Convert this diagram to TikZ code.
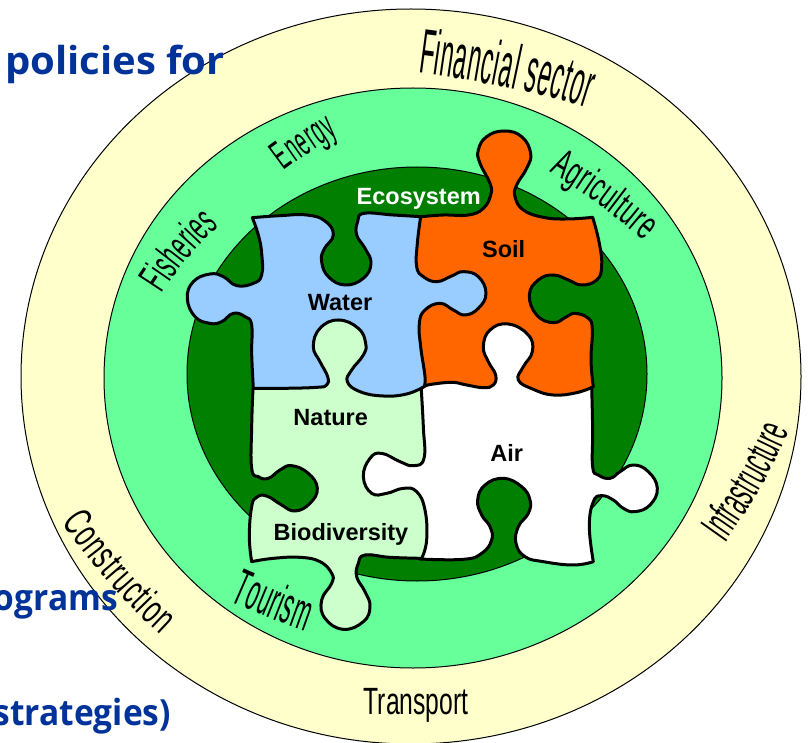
\documentclass[tikz,border=0pt]{standalone}
\usepackage{fontspec}
\usetikzlibrary{decorations.text}
\setmainfont{Liberation Sans}
\newfontfamily\blueA[FakeStretch=1.04]{Open Sans}
\newfontfamily\blueB[FakeStretch=.93]{Open Sans}
\newfontfamily\ffin[FakeStretch=.37]{Liberation Sans}
\newfontfamily\ftra[FakeStretch=.65]{Liberation Sans}
\newfontfamily\fagr[FakeStretch=.57]{Liberation Sans}
\newfontfamily\fene[FakeStretch=.46]{Liberation Sans}
\newfontfamily\ffis[FakeStretch=.50]{Liberation Sans}
\newfontfamily\fcon[FakeStretch=.60]{Liberation Sans}
\newfontfamily\ftou[FakeStretch=.41]{Liberation Sans}
\newfontfamily\finf[FakeStretch=.46]{Liberation Sans}
\definecolor{ringout}{HTML}{FFFFCC}
\definecolor{ringmid}{HTML}{66FF99}
\definecolor{ringin}{HTML}{007F00}
\definecolor{pwater}{HTML}{99CCFF}
\definecolor{psoil}{HTML}{FF6600}
\definecolor{pnature}{HTML}{CCFFCC}
\definecolor{headblue}{HTML}{003399}
\tikzset{
  ring/.style={draw=black,line width=1pt},
  piece/.style={draw=black,line width=3pt,line join=round},
  plabel/.style={font=\bfseries\fontsize{23.5}{25}\selectfont,anchor=base,inner sep=0pt},
  headtop/.style={font=\blueA\bfseries\fontsize{38.5}{42}\selectfont,text=headblue,inner sep=0pt},
  headlow/.style={font=\blueB\bfseries\fontsize{36}{40}\selectfont,text=headblue,inner sep=0pt},
  sm/.style={smooth,tension=.75},
  arctext/.style={decorate,decoration={text along path,text align={fit to path},text={#1}}}
}
\begin{document}
\begin{tikzpicture}[x=1pt,y=-1pt]
\useasboundingbox (0,0) rectangle (808,743);
\clip (0,0) rectangle (808,743);
\fill[white] (0,0) rectangle (808,743);
% rings
\path[ring,fill=ringout] (411,376.5) ellipse [x radius=390,y radius=367.5];
\path[ring,fill=ringmid] (413,378) ellipse [x radius=309,y radius=290];
\path[ring,fill=ringin] (417,374) ellipse [x radius=230,y radius=207];
% Air (hidden parts under the neighbours)
\begin{scope}[shift={(410,330)},scale=1/3]
\path[piece,fill=white]
 plot[sm] coordinates {(545,170)(548,300)(548,410)(565,435)(600,445)(630,425)(670,405)(715,425)(742,475)(720,525)(675,545)(640,535)(610,510)(575,497)(550,515)(538,590)(550,695)}
 -- plot[sm] coordinates {(550,695)(490,705)(400,695)(345,680)(318,640)(325,590)(355,550)(360,510)(335,470)(280,445)(225,465)(203,510)(215,555)(240,590)(245,630)(215,670)(160,688)(30,687)}
 -- (-180,570) -- (-180,270) -- (38,172) -- (90,144) -- (204,-36) -- (390,-36) -- (495,135) -- cycle;
\end{scope}
% Soil
\begin{scope}[shift={(400,120)},scale=1/3]
\path[piece,fill=psoil]
 plot[sm] coordinates {(65,290)(130,285)(205,285)(250,265)(272,225)(270,190)(240,130)(235,90)(260,50)(312,33)(365,50)(392,100)(380,145)(350,195)(345,230)(370,270)(430,292)(500,297)(578,292)}
 -- plot[sm] coordinates {(578,292)(598,370)(605,440)(590,480)(545,495)(505,480)(460,465)(415,480)(388,525)(410,585)(460,608)(500,590)(525,580)(565,595)(577,630)(573,720)(580,800)}
 -- plot[sm] coordinates {(580,800)(530,818)(460,825)(400,808)(355,780)(370,740)(397,695)(385,645)(325,612)(270,630)(250,680)(265,725)(287,765)(280,795)(250,803)(200,795)(150,787)(70,797)}
 -- (0,810) -- (-50,600) -- (-50,300) -- cycle;
\end{scope}
% Nature / Biodiversity
\begin{scope}[shift={(230,370)},scale=1/3]
\path[piece,fill=pnature]
 plot[sm] coordinates {(69,55)(65,170)(65,295)(85,320)(115,325)(150,300)(185,287)(235,310)(262,355)(240,400)(195,423)(155,405)(110,378)(80,382)(65,410)(58,500)(65,575)}
 -- plot[sm] coordinates {(65,575)(130,565)(210,562)(270,575)(305,610)(305,640)(275,690)(285,745)(340,778)(400,755)(420,710)(405,665)(380,620)(385,580)(405,555)(480,562)(575,565)}
 -- plot[sm] coordinates {(575,565)(590,510)(585,420)(560,365)(520,355)(470,370)(425,370)(400,320)(420,265)(455,250)(510,275)(550,287)(582,265)(580,170)(573,45)}
 -- (495,30) -- (465,-180) -- (210,-180) -- (165,15) -- cycle;
\end{scope}
% Water
\begin{scope}[shift={(180,120)},scale=1/3]
\path[piece,fill=pwater]
 plot[sm] coordinates {(217,293)(300,287)(380,285)(435,303)(460,345)(432,388)(425,425)(445,470)(495,495)(550,475)(573,430)(555,385)(530,345)(533,305)(552,280)(640,285)(722,290)}
 -- plot[sm] coordinates {(722,290)(712,370)(710,440)(730,470)(770,485)(815,468)(850,455)(895,470)(918,520)(895,565)(855,585)(820,570)(780,550)(735,570)(718,610)(722,680)(735,770)(732,800)}
 -- plot[sm] coordinates {(732,800)(680,822)(610,828)(540,815)(502,785)(515,750)(550,705)(557,670)(535,625)(475,600)(420,625)(400,680)(420,725)(443,770)(440,795)(410,802)(310,805)(220,805)}
 -- plot[sm] coordinates {(220,805)(215,700)(215,615)(195,590)(160,580)(125,605)(90,610)(45,590)(22,535)(40,485)(90,462)(130,470)(170,497)(220,490)(245,465)(245,400)(235,345)(217,293)}
 -- cycle;
\end{scope}
% puzzle labels
\node[plabel] (water) at (340,310.7) {Water};
\node[plabel] (soil) at (503.7,257.7) {Soil};
\node[plabel,text=white] (eco) at (418.7,205) {Ecosystem};
\node[plabel] (nature) at (330.7,425.7) {Nature};
\node[plabel] (bio) at (341,540.7) {Biodiversity};
\node[plabel] (air) at (506.7,461.7) {Air};
% curved sector labels
\path[arctext={|\ffin\fontsize{63}{70}\selectfont|Financial sector}] (418,73) .. controls (473,80) and (530,90) .. (587,108);
\path[arctext={|\fagr\fontsize{41}{46}\selectfont|Agriculture}] (549,172) .. controls (578,189) and (610,211) .. (644,241);
\path[arctext={|\fene\fontsize{41}{46}\selectfont|Energy}] (284,171) .. controls (301,158) and (320,146) .. (338,134);
\path[arctext={|\ffis\fontsize{42}{47}\selectfont|Fisheries}] (162,294) .. controls (178,269) and (196,246) .. (219,226);
\path[arctext={|\fcon\fontsize{41}{46}\selectfont|Construction}] (62,522) .. controls (90,562) and (122,600) .. (160,635);
\path[arctext={|\ftou\fontsize{52}{58}\selectfont|Tourism}] (230,601) .. controls (255,612) and (279,622) .. (305,631);
\path[arctext={|\finf\fontsize{46}{52}\selectfont|Infrastructure}] (725,543) .. controls (750,508) and (772,471) .. (789,431);
\node[anchor=base,inner sep=0pt] (transport) at (416,714) {\ftra\fontsize{38}{42}\selectfont Transport};
% background slide text
\node[headtop,anchor=base west] (h1) at (5,75) {policies for};
\node[headlow,anchor=base east] (h2) at (118,610) {ograms};
\node[headlow,anchor=base east] (h3) at (171,725) {strategies)};
\end{tikzpicture}
\end{document}
